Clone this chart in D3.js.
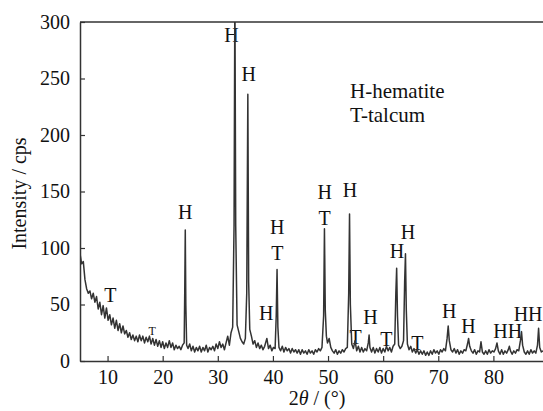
<!DOCTYPE html>
<html>
<head>
<meta charset="utf-8">
<script src="https://cdn.jsdelivr.net/npm/d3@7"></script>
<style>
    body { margin: 0; background: #fff; }
    #chart { width: 543px; height: 411px; }
</style>
</head>
<body>
<div id="chart"></div>
<script>
// XRD scan: [2theta (deg), intensity (cps)]
const scan = [
    [5.0, 95], [5.3, 86], [5.6, 88], [5.9, 72], [6.2, 64], [6.5, 60], [6.8, 62], [7.1, 55],
    [7.4, 60], [7.7, 52], [8.0, 57], [8.3, 46], [8.6, 52], [8.9, 41], [9.2, 49], [9.5, 38],
    [9.8, 47], [10.1, 36], [10.4, 41], [10.7, 32], [11.0, 38], [11.3, 29], [11.6, 36], [11.9, 27],
    [12.2, 33], [12.5, 25], [12.8, 31], [13.1, 24], [13.4, 27], [13.7, 21], [14.0, 25], [14.3, 19],
    [14.6, 23], [14.9, 18], [15.2, 22], [15.5, 17], [15.8, 23], [16.1, 18], [16.4, 22], [16.7, 16],
    [17.0, 21], [17.3, 17], [17.6, 22], [17.9, 15], [18.2, 20], [18.5, 14], [18.8, 19], [19.1, 13],
    [19.4, 18], [19.7, 12], [20.0, 17], [20.3, 11], [20.6, 16], [20.9, 12], [21.2, 18], [21.5, 12],
    [21.8, 16], [22.1, 10], [22.4, 14], [22.7, 11], [23.0, 13], [23.3, 10], [23.6, 14], [23.9, 16],
    [24.0, 60], [24.1, 116], [24.2, 50], [24.35, 14], [24.6, 11], [24.9, 15], [25.2, 9], [25.5, 13],
    [25.8, 8], [26.1, 12], [26.4, 9], [26.7, 13], [27.0, 8], [27.3, 12], [27.6, 9], [27.9, 14],
    [28.2, 8], [28.5, 12], [28.8, 10], [29.1, 13], [29.4, 9], [29.7, 15], [30.0, 11], [30.3, 17],
    [30.6, 12], [30.9, 15], [31.2, 10], [31.5, 16], [31.8, 22], [32.1, 14], [32.4, 25], [32.7, 30],
    [32.95, 120], [33.1, 330], [33.25, 120], [33.5, 32], [33.8, 26], [34.1, 20], [34.4, 17], [34.7, 15],
    [35.0, 20], [35.25, 60], [35.45, 236], [35.6, 70], [35.8, 28], [36.1, 22], [36.4, 15], [36.7, 18],
    [37.0, 12], [37.3, 16], [37.6, 11], [37.9, 14], [38.2, 10], [38.5, 13], [38.9, 20], [39.2, 11],
    [39.5, 14], [39.8, 9], [40.1, 12], [40.4, 11], [40.6, 40], [40.75, 81], [40.9, 30], [41.1, 12],
    [41.4, 9], [41.7, 13], [42.0, 8], [42.3, 12], [42.6, 9], [42.9, 11], [43.2, 7], [43.5, 11],
    [43.8, 8], [44.1, 10], [44.4, 7], [44.7, 10], [45.0, 6], [45.3, 10], [45.6, 7], [45.9, 9],
    [46.2, 6], [46.5, 10], [46.8, 7], [47.1, 9], [47.4, 6], [47.7, 10], [48.0, 8], [48.3, 11],
    [48.6, 9], [48.9, 12], [49.2, 40], [49.35, 117], [49.5, 45], [49.7, 22], [49.9, 16], [50.2, 20],
    [50.5, 12], [50.8, 9], [51.1, 7], [51.4, 10], [51.7, 6], [52.0, 9], [52.3, 7], [52.6, 10],
    [52.9, 8], [53.2, 11], [53.5, 12], [53.75, 60], [53.9, 130], [54.05, 50], [54.3, 15], [54.6, 11],
    [54.9, 18], [55.2, 9], [55.5, 13], [55.8, 8], [56.1, 12], [56.4, 8], [56.7, 11], [57.0, 9],
    [57.3, 16], [57.45, 23], [57.6, 12], [57.9, 8], [58.2, 12], [58.5, 7], [58.8, 11], [59.1, 8],
    [59.4, 12], [59.7, 7], [60.0, 11], [60.3, 8], [60.6, 13], [60.9, 9], [61.2, 12], [61.5, 8],
    [61.8, 13], [62.1, 15], [62.3, 60], [62.45, 82], [62.6, 40], [62.8, 14], [63.1, 11], [63.4, 13],
    [63.7, 18], [63.9, 70], [64.05, 95], [64.2, 45], [64.4, 15], [64.7, 10], [65.0, 13], [65.3, 8],
    [65.6, 11], [65.9, 7], [66.2, 10], [66.5, 6], [66.8, 9], [67.1, 6], [67.4, 9], [67.7, 5],
    [68.0, 8], [68.3, 5], [68.6, 9], [68.9, 6], [69.2, 10], [69.5, 7], [69.8, 9], [70.1, 6],
    [70.4, 10], [70.7, 8], [71.0, 11], [71.3, 9], [71.6, 20], [71.8, 31], [72.0, 18], [72.3, 10],
    [72.6, 8], [72.9, 11], [73.2, 7], [73.5, 10], [73.8, 6], [74.1, 9], [74.4, 7], [74.7, 10],
    [75.0, 9], [75.3, 15], [75.5, 20], [75.7, 13], [76.0, 9], [76.3, 7], [76.6, 10], [76.9, 6],
    [77.2, 9], [77.5, 8], [77.75, 17], [78.0, 8], [78.3, 6], [78.6, 9], [78.9, 6], [79.2, 10],
    [79.5, 7], [79.8, 9], [80.1, 8], [80.4, 11], [80.65, 16], [80.9, 9], [81.2, 6], [81.5, 10],
    [81.8, 6], [82.1, 9], [82.4, 7], [82.7, 10], [82.9, 13], [83.1, 9], [83.4, 6], [83.7, 9],
    [84.0, 7], [84.3, 10], [84.6, 9], [84.9, 18], [85.1, 26], [85.3, 14], [85.6, 8], [85.9, 6],
    [86.2, 9], [86.5, 6], [86.8, 10], [87.1, 7], [87.4, 9], [87.7, 7], [88.0, 14], [88.2, 29],
    [88.4, 12], [88.7, 8], [89.0, 9]
];

const xTicks = [10, 20, 30, 40, 50, 60, 70, 80];
const yTicks = [0, 50, 100, 150, 200, 250, 300];

// phase marks: text, 2theta, intensity where the letter sits, font size
const peakLabels = [
    ['T', 10.5, 52, 20], ['T', 18.1, 23, 12], ['H', 24.1, 126, 20], ['H', 32.5, 282, 20],
    ['H', 35.6, 248, 20], ['H', 40.8, 112, 20], ['T', 40.8, 89, 20], ['H', 38.8, 36, 20],
    ['H', 49.4, 143, 20], ['T', 49.4, 120, 20], ['H', 54.0, 145, 20], ['T', 55.0, 15, 20],
    ['H', 57.7, 33, 20], ['T', 60.6, 13, 20], ['H', 62.5, 91, 20], ['H', 64.5, 108, 20],
    ['T', 66.2, 10, 20], ['H', 72.0, 38, 20], ['H', 75.5, 25, 20], ['HH', 82.6, 20, 20],
    ['HH', 86.3, 35, 20]
];
const legendLines = ['H-hematite', 'T-talcum'];

const FONT = '"Liberation Serif", "DejaVu Serif", "Times New Roman", Times, serif';

class XrdChart {
    constructor(containerId) {
        this.container = d3.select(`#${containerId}`);
        this.dimensions = {
            width: 543,
            height: 411,
            margin: { top: 22, right: 0, bottom: 50, left: 80 }
        };
    }

    render() {
        const { width, height, margin } = this.dimensions;
        const innerWidth = width - margin.left - margin.right;
        const innerHeight = height - margin.top - margin.bottom;

        const svg = this.container.append('svg')
            .attr('width', width)
            .attr('height', height)
            .attr('font-family', FONT);

        const g = svg.append('g')
            .attr('transform', `translate(${margin.left},${margin.top})`);

        const xScale = d3.scaleLinear().domain([5, 89]).range([0, innerWidth]);
        const yScale = d3.scaleLinear().domain([0, 300]).range([innerHeight, 0]);

        svg.append('defs').append('clipPath')
            .attr('id', 'plot-clip')
            .append('rect')
            .attr('width', innerWidth)
            .attr('height', innerHeight);

        // labels sit under the trace
        g.selectAll('.peak-label')
            .data(peakLabels)
            .enter()
            .append('text')
            .attr('class', 'peak-label')
            .attr('x', d => xScale(d[1]))
            .attr('y', d => yScale(d[2]))
            .attr('text-anchor', 'middle')
            .attr('font-family', FONT)
            .attr('font-size', d => d[3])
            .attr('fill', '#111')
            .text(d => d[0]);

        const line = d3.line()
            .x(d => xScale(d[0]))
            .y(d => yScale(d[1]));

        g.append('path')
            .datum(scan)
            .attr('clip-path', 'url(#plot-clip)')
            .attr('fill', 'none')
            .attr('stroke', '#333')
            .attr('stroke-width', 1.5)
            .attr('stroke-linejoin', 'round')
            .attr('d', line);

        // axes, ticks pointing inwards
        const xAxis = g.append('g')
            .attr('transform', `translate(0,${innerHeight})`)
            .call(d3.axisBottom(xScale).tickValues(xTicks).tickSizeInner(-5).tickSizeOuter(0).tickPadding(9));
        const yAxis = g.append('g')
            .call(d3.axisLeft(yScale).tickValues(yTicks).tickSizeInner(-5).tickSizeOuter(0).tickPadding(10));

        [xAxis, yAxis].forEach(ax => {
            ax.attr('font-family', FONT).attr('font-size', 20);
            ax.select('.domain').attr('stroke', '#333').attr('stroke-width', 1.5);
            ax.selectAll('.tick line').attr('stroke', '#333').attr('stroke-width', 1.2);
            ax.selectAll('.tick text').attr('fill', '#111');
        });

        // top frame line
        g.append('line')
            .attr('x1', 0).attr('x2', innerWidth)
            .attr('y1', 0).attr('y2', 0)
            .attr('stroke', '#333')
            .attr('stroke-width', 1.5);

        // legend
        g.selectAll('.legend')
            .data(legendLines)
            .enter()
            .append('text')
            .attr('class', 'legend')
            .attr('x', 270)
            .attr('y', (d, i) => 76 + i * 24)
            .attr('font-family', FONT)
            .attr('font-size', 21)
            .attr('fill', '#111')
            .text(d => d);

        // axis titles
        svg.append('text')
            .attr('transform', `translate(26, ${margin.top + innerHeight / 2 + 2}) rotate(-90)`)
            .attr('text-anchor', 'middle')
            .attr('font-family', FONT)
            .attr('font-size', 20)
            .attr('fill', '#111')
            .text('Intensity / cps');

        const xt = svg.append('text')
            .attr('x', 317)
            .attr('y', 405)
            .attr('text-anchor', 'middle')
            .attr('font-family', FONT)
            .attr('font-size', 20)
            .attr('fill', '#111');
        xt.append('tspan').text('2');
        xt.append('tspan').attr('font-style', 'italic').text('θ');
        xt.append('tspan').text(' / (°)');
    }
}

new XrdChart('chart').render();
</script>
</body>
</html>
